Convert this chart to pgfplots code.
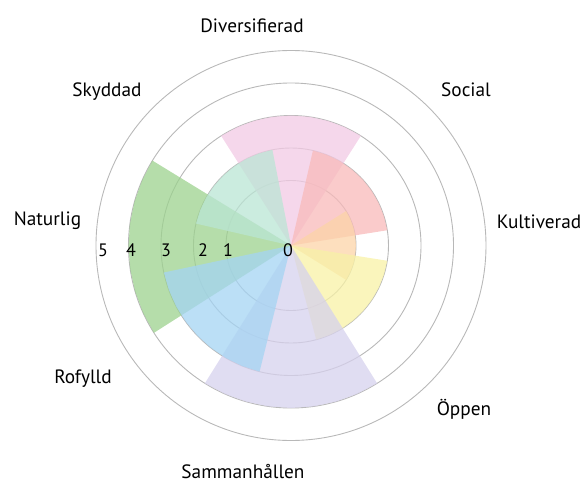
\documentclass[border=0pt]{standalone}
\usepackage{fontspec}
\setmainfont{PT Sans}
\usepackage{pgfplots}
\pgfplotsset{compat=1.18}
\usepgfplotslibrary{polar}
\definecolor{cPink}{RGB}{242,202,228}
\definecolor{cSalmon}{RGB}{248,186,186}
\definecolor{cPeach}{RGB}{252,212,168}
\definecolor{cYellow}{RGB}{248,242,166}
\definecolor{cLav}{RGB}{214,209,237}
\definecolor{cBlue}{RGB}{164,212,243}
\definecolor{cGreen}{RGB}{156,210,142}
\definecolor{cMint}{RGB}{186,229,212}
\begin{document}
\begin{tikzpicture}
\useasboundingbox (-291bp,-237.5bp) rectangle (291bp,245.5bp);
\begin{polaraxis}[
  at={(0,0)}, anchor=center,
  scale only axis, width=390bp, height=390bp,
  xmin=0, xmax=360, ymin=0, ymax=6,
  xtick=\empty, ytick={2,3,4,5}, yticklabels={},
  ymajorgrids,
  major tick length=0pt,
  grid style={draw=black!28, line width=0.9pt},
  axis line style={draw=black!28, line width=0.9pt},
  y axis line style={draw=none},
  every axis plot/.append style={draw=none, fill opacity=0.75},
]
% Diversifierad (value 3)
\addplot[fill=cPink] coordinates {(0,0) (57.5,4) (65.625,4) (73.75,4) (81.875,4) (90,4) (98.125,4) (106.25,4) (114.375,4) (122.5,4) (0,0)} -- cycle;
% Social (value 2)
\addplot[fill=cSalmon] coordinates {(0,0) (9,3) (17.5,3) (26,3) (34.5,3) (43,3) (51.5,3) (60,3) (68.5,3) (77,3) (0,0)} -- cycle;
% Kultiverad (value 1)
\addplot[fill=cPeach] coordinates {(0,0) (328,2) (336,2) (344,2) (352,2) (0,2) (8,2) (16,2) (24,2) (32,2) (0,0)} -- cycle;
% Oppen (value 2)
\addplot[fill=cYellow] coordinates {(0,0) (285,3) (293.25,3) (301.5,3) (309.75,3) (318,3) (326.25,3) (334.5,3) (342.75,3) (351,3) (0,0)} -- cycle;
% Sammanhallen (value 4)
\addplot[fill=cLav] coordinates {(0,0) (238,5) (246,5) (254,5) (262,5) (270,5) (278,5) (286,5) (294,5) (302,5) (0,0)} -- cycle;
% Naturlig (value 4)
\addplot[fill=cGreen] coordinates {(0,0) (148.5,5) (156.5,5) (164.5,5) (172.5,5) (180.5,5) (188.5,5) (196.5,5) (204.5,5) (212.5,5) (0,0)} -- cycle;
% Rofylld (value 3)
\addplot[fill=cBlue] coordinates {(0,0) (192,4) (200,4) (208,4) (216,4) (224,4) (232,4) (240,4) (248,4) (256,4) (0,0)} -- cycle;
% Skyddad (value 2)
\addplot[fill=cMint] coordinates {(0,0) (101,3) (109.25,3) (117.5,3) (125.75,3) (134,3) (142.25,3) (150.5,3) (158.75,3) (167,3) (0,0)} -- cycle;
\end{polaraxis}
\begin{scope}[every node/.style={inner sep=0pt}, font=\fontsize{18bp}{20bp}\selectfont]
\node[anchor=base] at (-3bp,-10.5bp) {0};
\node[anchor=base] at (-63bp,-10.5bp) {1};
\node[anchor=base] at (-88bp,-10.5bp) {2};
\node[anchor=base] at (-125bp,-10.5bp) {3};
\node[anchor=base] at (-160bp,-10.5bp) {4};
\node[anchor=base] at (-188bp,-10.5bp) {5};
\end{scope}
\begin{scope}[every node/.style={inner sep=0pt}, font=\fontsize{19.3bp}{22bp}\selectfont]
\node[anchor=base] at (-39bp,212.5bp) {Diversifierad};
\node[anchor=base] at (175bp,148.5bp) {Social};
\node[anchor=base] at (248bp,17.5bp) {Kultiverad};
\node[anchor=base] at (173bp,-169.5bp) {Öppen};
\node[anchor=base] at (-48bp,-232.5bp) {Sammanhållen};
\node[anchor=base] at (-208bp,-137.5bp) {Rofylld};
\node[anchor=base] at (-243.5bp,20.5bp) {Naturlig};
\node[anchor=base] at (-184bp,148.5bp) {Skyddad};
\end{scope}
\end{tikzpicture}
\end{document}
